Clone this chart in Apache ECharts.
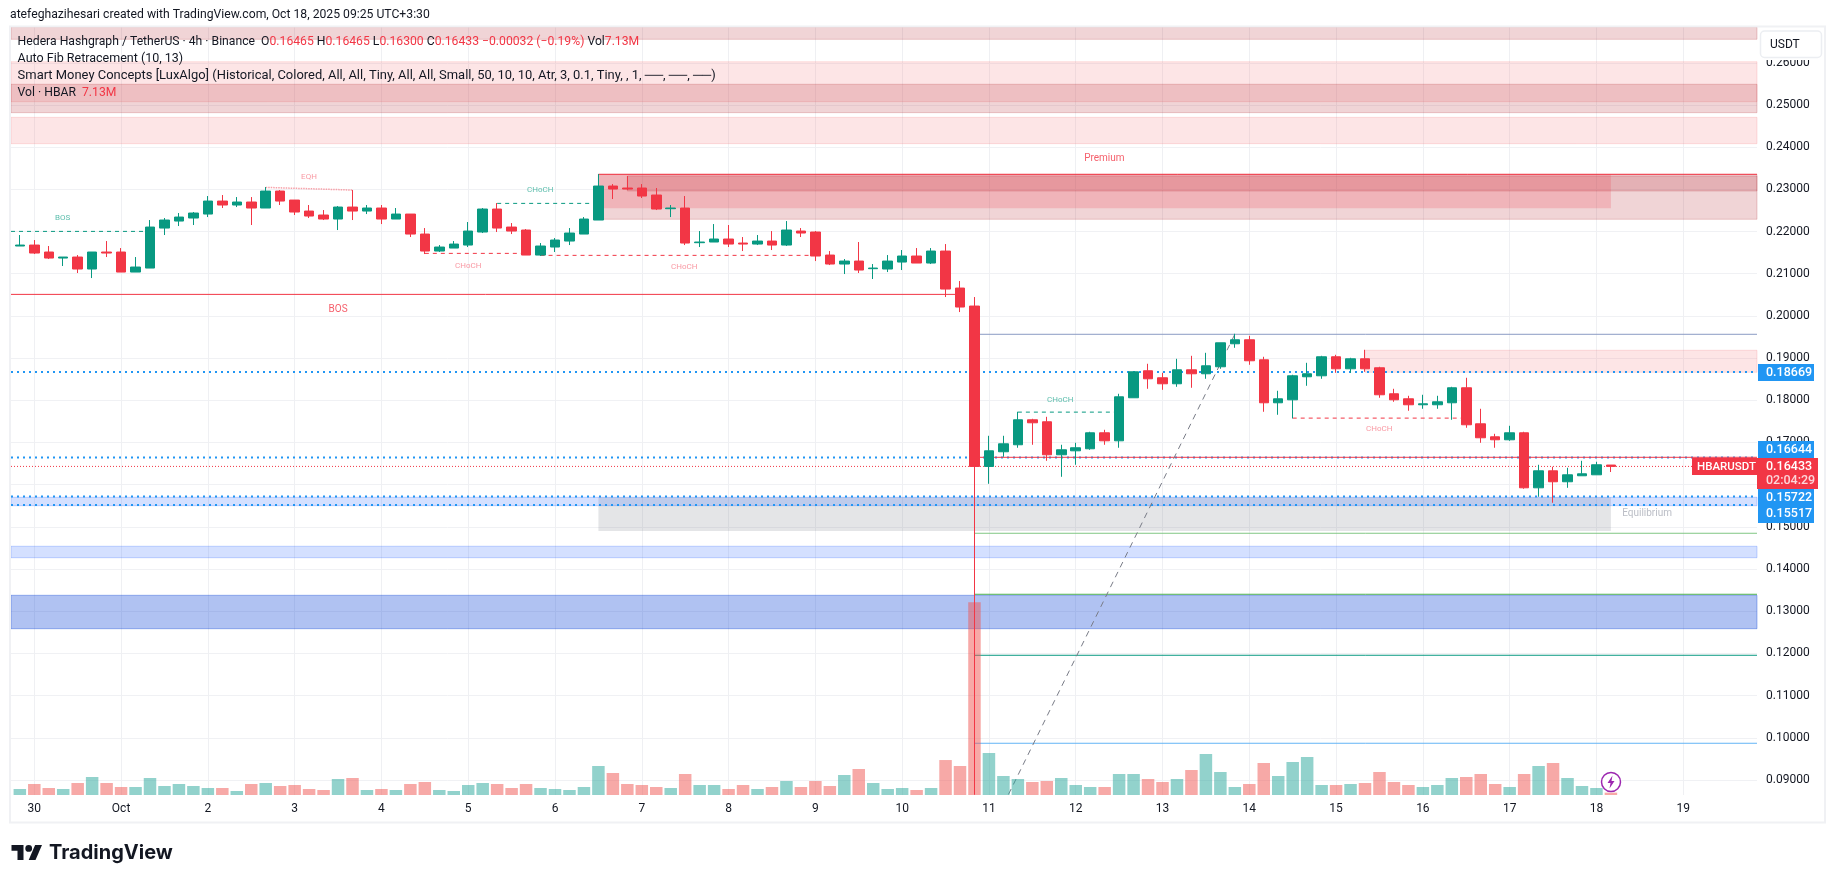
<!DOCTYPE html>
<html><head><meta charset="utf-8"><title>HBARUSDT</title>
<style>html,body{margin:0;padding:0;background:#fff}#c{width:1835px;height:883px}</style>
<script src="https://cdn.jsdelivr.net/npm/echarts@6/dist/echarts.min.js"></script></head>
<body><div id="c"></div>
<script>
const opens=[.21657,.2168,.21515,.21372,.21396,.21112,.21515,.21515,.2104,.21135,.22083,.22249,.22321,.22415,.22723,.22629,.227,.22558,.2296,.22747,.22486,.22392,.22297,.22581,.22486,.22558,.22297,.22415,.21941,.21538,.21609,.2168,.21989,.22534,.22107,.22036,.21443,.21633,.21775,.21941,.22273,.23079,.23032,.23032,.22866,.22542,.22558,.21736,.21752,.21823,.21728,.21704,.21775,.2168,.22012,.21989,.21443,.2123,.21301,.2112,.21112,.21277,.2142,.21254,.21538,.20661,.20234,.16432,.1678,.16946,.17538,.17491,.16709,.16803,.16851,.1723,.1704,.1806,.187,.18534,.18392,.18723,.18629,.18795,.1934,.19435,.1896,.17941,.18012,.18558,.18581,.19032,.18747,.18984,.18771,.18155,.18036,.17894,.17894,.17941,.18297,.17443,.17135,.17064,.1723,.15926,.16329,.16069,.16211,.16234,.16465];
const closes=[.2168,.21491,.21372,.21396,.21112,.21515,.21491,.2104,.21159,.22107,.22273,.22344,.22439,.22723,.22629,.227,.22558,.2296,.22723,.22463,.22368,.22297,.22581,.22486,.22558,.22297,.22415,.21941,.21538,.21633,.21704,.22012,.22534,.22083,.22012,.21443,.21657,.21799,.21965,.22297,.23079,.23008,.23008,.22842,.22534,.22558,.21728,.21752,.21823,.21704,.21704,.21775,.2168,.22036,.21965,.2142,.2123,.21301,.21088,.21135,.21301,.2142,.21254,.21538,.20637,.20211,.16432,.16803,.16969,.17538,.17467,.16709,.16827,.16875,.1723,.1704,.18083,.18676,.1851,.18392,.18723,.18629,.18818,.19363,.19435,.18937,.17941,.18036,.18581,.18629,.19032,.18747,.18984,.18747,.18131,.18012,.17894,.17917,.17965,.18297,.1742,.17112,.17064,.1723,.15926,.16329,.16069,.16234,.16258,.16472,.16433];
const lows=[.21657,.21467,.21349,.21183,.21017,.20898,.21396,.2104,.2104,.21135,.21918,.22131,.22155,.22344,.22558,.22581,.22155,.22558,.22629,.22392,.22321,.22273,.22036,.22273,.22415,.22178,.22297,.2187,.21467,.21515,.21609,.21633,.21965,.21989,.21941,.21443,.2142,.21515,.2168,.21941,.22273,.22771,.22984,.22795,.2251,.22344,.2168,.21633,.21752,.21633,.21538,.2168,.21562,.21657,.2187,.21301,.21206,.20993,.21017,.20875,.2104,.21088,.21254,.2123,.20448,.20092,.0865,.16021,.16661,.16875,.16946,.16566,.16187,.16472,.16827,.16946,.16875,.1806,.18273,.18249,.1832,.18297,.1851,.18747,.19245,.18842,.17728,.17657,.1757,.18344,.1851,.18652,.18652,.18676,.1806,.17965,.17752,.17799,.17799,.17538,.17349,.16993,.16875,.1704,.15903,.15713,.15571,.15926,.16211,.16234,.163];
const highs=[.21918,.21799,.21657,.21396,.21443,.21515,.21775,.21609,.21396,.22273,.22321,.22439,.22463,.22842,.22866,.22818,.22818,.23055,.22984,.22747,.22629,.2251,.22605,.22984,.22629,.22629,.22558,.22415,.22083,.2168,.21775,.22226,.22558,.22676,.22202,.2206,.21728,.21846,.22083,.22344,.23363,.23126,.23316,.23126,.23032,.22629,.22842,.22012,.22178,.22155,.2187,.21918,.22012,.22249,.22083,.22012,.21538,.21349,.21752,.2123,.21443,.21562,.21609,.21609,.21704,.20827,.20448,.17159,.17159,.17728,.17562,.17609,.16946,.16993,.17254,.17301,.18155,.18676,.18866,.18652,.18984,.19055,.19126,.19363,.19577,.19529,.19032,.18226,.18605,.18889,.19055,.19079,.19008,.19198,.18795,.18273,.18107,.18131,.18107,.1832,.18534,.17799,.17206,.17396,.17254,.16472,.16424,.164,.16566,.16543,.16465];
const volumes=[18.4,33.7,21.4,18.4,36.7,55.1,36.7,24.5,24.5,52,27.5,33.7,27.5,21.4,21.4,12.2,33.7,36.7,27.5,30.6,18.4,15.3,49,52,15.3,18.4,15.3,33.7,39.8,15.3,12.2,30.6,36.7,33.7,21.4,33.7,21.4,18.4,15.3,24.5,88.7,67.3,33.7,30.6,24.5,21.4,64.3,30.6,30.6,18.4,30.6,18.4,24.5,42.8,24.5,42.8,27.5,61.2,79.6,36.7,18.4,21.4,15.3,21.4,107,88.7,590,128.5,58.1,49,39.8,42.8,52,30.6,24.5,24.5,64.3,64.3,49,39.8,49,76.5,125.5,70.4,24.5,33.7,97.9,58.1,101,116.3,30.6,30.6,33.7,36.7,70.4,39.8,30.6,24.5,30.6,52,55.1,64.3,33.7,24.5,64.3,88.7,97.9,52,27.5,21.4,7.13];
const priceTicks=[.09,.10,.11,.12,.13,.14,.15,.16,.17,.18,.19,.20,.21,.22,.23,.24,.25,.26];
const dayTicks=[1,7,13,19,25,31,37,43,49,55,61,67,73,79,85,91,97,103,109,115];
const dayLabels=['30','Oct','2','3','4','5','6','7','8','9','10','11','12','13','14','15','16','17','18','19'];
const priceLevels=[.18669,.16644,.15722,.15517];
const lastPrice=.16433;
const X0=-0.61,X1=120.1,Y0=.08644,Y1=.26849;
// [from index, to index, upper price, lower price, kind]
const zones=[
 [X0,X1,.2685,.26557,'dark'],[X0,X1,.26026,.25078,'light'],[X0,X1,.25491,.24818,'dark'],[X0,X1,.24708,.24083,'light'],
 [40,X1,.23357,.22291,'dark'],[42,X1,.23317,.22961,'dark'],[40,110,.23357,.22551,'prem'],
 [40,110,.15701,.14902,'grey'],[X0,X1,.15701,.15502,'blue'],[X0,X1,.1454,.14269,'blue'],[X0,X1,.13378,.12586,'deep'],
 [93,X1,.19186,.18664,'light']];
// [from index, to index, price, to price, kind]
const segments=[
 [X0,8.7,.22004,.22004,'greenDash'],[17,23,.23047,.22984,'eqh'],[28,35,.21483,.21483,'redDash'],[36,55,.21436,.21436,'redDash'],
 [33,40,.22668,.22668,'greenDash'],[69,76,.1772,.1772,'greenDash'],[88,100,.17578,.17578,'redDash'],[X0,65,.20511,.20511,'red'],
 [40,X1,.23357,.23357,'red'],[66,X1,.19565,.19565,'slate'],[66,X1,.16649,.16649,'red'],[66,X1,.14848,.14848,'fib1'],
 [66,X1,.13402,.13402,'fib2'],[66,X1,.11956,.11956,'fib3'],[66,X1,.0987,.0987,'fib4'],[66,84,.0702,.19565,'fibLine']];
const notes=[
 ['BOS',2.96,.22314,'greenT'],['EQH',19.99,.23286,'pinkT'],['CHoCH',31,.2119,'pinkT'],['BOS',22,.20157,'red'],
 ['CHoCH',35.98,.22978,'greenT'],['CHoCH',45.94,.21153,'pinkT'],['Premium',74.98,.23727,'red'],['CHoCH',71.93,.18,'greenT'],
 ['CHoCH',93.98,.17313,'pinkT'],['Equilibrium',112.5,.15312,'grey']];

const UP='#089981',DN='#F23645',FONT='Roboto, sans-serif',INK='#131722';
const zoneStyle={
 dark:{color:'rgba(178,40,51,.2)',borderColor:'rgba(178,40,51,.22)',borderWidth:1},
 light:{color:'rgba(247,124,128,.2)',borderColor:'rgba(247,124,128,.22)',borderWidth:1},
 prem:{color:'rgba(242,54,69,.2)',borderWidth:0},
 grey:{color:'rgba(120,123,134,.2)',borderWidth:0},
 blue:{color:'rgba(41,98,255,.2)',borderColor:'rgba(41,98,255,.25)',borderWidth:1},
 deep:{color:'rgba(8,66,214,.32)',borderColor:'rgba(8,66,214,.35)',borderWidth:1}};
const lineStyle={
 greenDash:{color:UP,width:1,type:[4,4]},redDash:{color:DN,width:1,type:[4,4]},eqh:{color:'#f7a0a8',width:1.5,type:[1.5,1]},
 red:{color:DN,width:1,type:'solid'},slate:{color:'#8a9bc4',width:1,type:'solid'},fib1:{color:'#81c784',width:1,type:'solid'},
 fib2:{color:'#4caf50',width:1,type:'solid'},fib3:{color:UP,width:1,type:'solid'},fib4:{color:'#64b5f6',width:1,type:'solid'},
 fibLine:{color:'#787b86',width:1,type:[6,5]}};
const noteStyle={greenT:{color:'#35ae98',fontSize:8},pinkT:{color:'#f7808c',fontSize:8},red:{color:DN,fontSize:10},grey:{color:'#a9acb6',fontSize:10}};

const lineSeries=(d,st,z)=>({type:'line',data:d,symbol:'none',silent:true,animation:false,z:z,clip:true,lineStyle:st,xAxisIndex:0,yAxisIndex:0});
const series=[];
series.push({type:'line',data:[],silent:true,z:1,markArea:{silent:true,animation:false,data:zones.map(z=>[
  {xAxis:z[0],yAxis:z[2],itemStyle:zoneStyle[z[4]]},{xAxis:z[1],yAxis:z[3]}])}});
priceLevels.forEach(p=>series.push(lineSeries([[X0,p],[X1,p]],{color:'#2196F3',width:2,type:[2,4]},2)));
series.push(lineSeries([[X0,lastPrice],[X1,lastPrice]],{color:DN,width:1,type:[1,2]},2));
segments.forEach(s=>series.push(lineSeries([[s[0],s[2]],[s[1],s[3]]],lineStyle[s[4]],2)));
series.push({type:'bar',xAxisIndex:0,yAxisIndex:1,barWidth:12.5,silent:true,z:3,animation:false,
  data:volumes.map((v,i)=>({value:[i,v],itemStyle:{color:closes[i]>opens[i]?'rgba(38,166,154,.5)':'rgba(239,83,80,.5)'}}))});
series.push({type:'candlestick',xAxisIndex:0,yAxisIndex:0,barWidth:10,silent:true,z:4,animation:false,clip:true,
  itemStyle:{color:UP,color0:DN,borderColor:UP,borderColor0:DN,borderWidth:1},
  encode:{x:0,y:[1,2,3,4]},
  data:opens.map((o,i)=>[i,o,closes[i],lows[i],highs[i]])});
series.push({type:'scatter',xAxisIndex:0,yAxisIndex:0,silent:true,z:5,animation:false,symbolSize:1,itemStyle:{color:'transparent'},
  data:notes.map(n=>({value:[n[1],n[2]],label:Object.assign({show:true,position:'inside',formatter:n[0],fontFamily:FONT,align:'center',verticalAlign:'middle',padding:[2,0,0,0]},noteStyle[n[3]])}))});

const T=(x,y,text,o)=>({type:'text',x:x,y:y,z:100,silent:true,style:Object.assign({text:text,fontFamily:FONT,fontSize:12.5,fill:INK,verticalAlign:'middle'},o||{})});
const R=(x,y,w,h,fill,o)=>({type:'rect',z:99,silent:true,shape:Object.assign({x:x,y:y,width:w,height:h},(o&&o.shape)||{}),style:Object.assign({fill:fill},(o&&o.style)||{})});
const TAGF={fill:'#fff',fontSize:12.5,fontWeight:500};
const RED={r:{fill:DN,fontFamily:FONT,fontSize:12.2}};
const graphics=[
 R(10,26.5,1815,796,'transparent',{style:{stroke:'#f0f1f4',lineWidth:2}}),
 T(10,15,'atefeghazihesari created with TradingView.com, Oct 18, 2025 09:25 UTC+3:30',{fontSize:12.2}),
 T(17.6,41.7,'Hedera Hashgraph / TetherUS · 4h · Binance  O{r|0.16465} H{r|0.16465} L{r|0.16300} C{r|0.16433} {r|−0.00032 (−0.19%)} Vol{r|7.13M}',{rich:RED,fontSize:12.2}),
 T(17.6,58.7,'Auto Fib Retracement (10, 13)'),
 T(17.6,75.7,'Smart Money Concepts [LuxAlgo] (Historical, Colored, All, All, Tiny, All, All, Small, 50, 10, 10, Atr, 3, 0.1, Tiny, , 1, ──, ──, ──)',{fontSize:12.95}),
 T(17.6,92.7,'Vol · HBAR  {r|7.13M}',{rich:RED,fontSize:12.2}),
 R(1758,28,66,32,'#fff'),
 R(1760.5,31,61,26.5,'#fff',{shape:{r:4},style:{stroke:'#eceef2',lineWidth:1.5}}),
 T(1770,44.7,'USDT',{fontSize:12}),
 R(1758,364,56,17,'#2196F3'),T(1766,372.7,'0.18669',TAGF),
 R(1758,441,56,17,'#2196F3'),T(1766,449.7,'0.16644',TAGF),
 R(1692,458,65,17,DN),T(1697,466.7,'HBARUSDT',Object.assign({},TAGF,{fontSize:11.5})),
 R(1757,458,61,31,DN),T(1766,466.7,'0.16433',TAGF),T(1766,480.7,'02:04:29',Object.assign({},TAGF,{fill:'#fcd5d9'})),
 R(1758,489,56,17,'#2196F3'),T(1766,497.7,'0.15722',TAGF),
 R(1758,506,56,17,'#2196F3'),T(1766,514.3,'0.15517',TAGF),
 {type:'circle',z:99,silent:true,shape:{cx:1611,cy:782,r:9.5},style:{fill:'#fff',stroke:'#9c27b0',lineWidth:1.5}},
 {type:'polygon',z:100,silent:true,shape:{points:[[1612.5,775.5],[1607.5,783],[1610.5,783],[1609.5,788.5],[1614.5,781],[1611.5,781]]},style:{fill:'#9c27b0'}},
 {type:'polygon',z:100,silent:true,shape:{points:[[23.5,860],[17.5,860],[17.5,850.8],[11.5,850.8],[11.5,845],[23.5,845]]},style:{fill:'#131722'}},
 {type:'polygon',z:100,silent:true,shape:{points:[[35.5,860],[28.7,860],[35.1,845],[42,845]]},style:{fill:'#131722'}},
 {type:'circle',z:100,silent:true,shape:{cx:28.7,cy:848.4,r:3.4},style:{fill:'#131722'}},
 T(49,853,'TradingView',{fontFamily:'Inter, sans-serif',fontSize:20,fontWeight:700,fill:'#131722'})
];

const chart=echarts.init(document.getElementById('c'),null,{renderer:'canvas'});
chart.setOption({
 animation:false,backgroundColor:'#fff',
 grid:{left:11,right:78,top:27,bottom:88,show:false},
 tooltip:{show:false},legend:{show:false},
 xAxis:{type:'value',min:X0,max:X1,
  axisLine:{show:false},axisTick:{show:false,customValues:dayTicks},
  splitLine:{show:true,lineStyle:{color:'#eff0f3',width:1}},
  axisLabel:{customValues:dayTicks,margin:8,color:INK,fontFamily:FONT,fontSize:12,formatter:v=>dayLabels[dayTicks.indexOf(v)]}},
 yAxis:[{type:'value',position:'right',min:Y0,max:Y1,
  axisLine:{show:false},axisTick:{show:false,customValues:priceTicks},
  splitLine:{show:true,lineStyle:{color:'#f0f1f4',width:1}},
  axisLabel:{customValues:priceTicks,margin:9,padding:[2,0,0,0],color:INK,fontFamily:FONT,fontSize:12,formatter:v=>v.toFixed(5)}},
  {type:'value',show:false,min:0,max:2350,splitLine:{show:false}}],
 series:series,
 graphic:{elements:graphics}
});
</script></body></html>
